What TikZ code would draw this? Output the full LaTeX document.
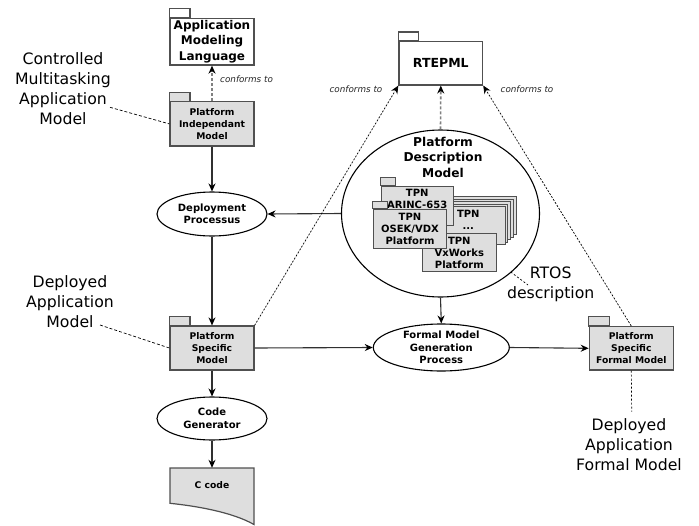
\documentclass[tikz,border=0pt]{standalone}
\usepackage{fontspec}
\setmainfont{DejaVu Sans}
\usetikzlibrary{shapes.geometric,arrows.meta}
\definecolor{pkgfill}{HTML}{DEDEDE}
\definecolor{pkgline}{HTML}{505050}
\definecolor{conn}{HTML}{303030}
\definecolor{dashgray}{HTML}{808080}
\begin{document}
\begin{tikzpicture}[x=1pt,y=-1pt,
  pkg/.style={draw=pkgline, line width=1.2pt, fill=pkgfill, rectangle, inner sep=0pt, align=center, font=\bfseries\fontsize{9.2}{12}\selectfont},
  pkgw/.style={pkg, fill=white, font=\bfseries\fontsize{12}{15.5}\selectfont},
  tpn/.style={pkg, line width=1pt, font=\bfseries\fontsize{10}{12}\selectfont},
  tab/.style={draw=pkgline, line width=1.2pt, fill=pkgfill},
  proc/.style={draw=black, line width=1.1pt, fill=white, ellipse, inner sep=0pt, align=center, font=\bfseries\fontsize{10}{12.5}\selectfont},
  flow/.style={draw=conn, line width=1.1pt, -{Stealth[length=8pt,width=7pt,color=black]}},
  conf/.style={draw=black, line width=0.7pt, dash pattern=on 2pt off 1.5pt, -{Stealth[length=8pt,width=7pt]}},
  confg/.style={draw=dashgray, line width=1.6pt, dash pattern=on 3pt off 2pt, -{Stealth[length=8pt,width=7pt,color=black]}},
  note/.style={draw=black, line width=0.7pt, dash pattern=on 3pt off 2pt},
  big/.style={font=\fontsize{15.7}{20}\selectfont, align=center, inner sep=0pt},
  conflbl/.style={font=\itshape\fontsize{8.8}{10}\selectfont, text=black!85, inner sep=0pt},
  doc/.style={draw=pkgline, line width=1.2pt, fill=pkgfill}
]
\fill[white] (0,0) rectangle (699,525);
\useasboundingbox (0,0) rectangle (699,525);

% ---- left column
\node[pkgw, minimum width=84pt, minimum height=46.7pt] (aml) at (212,41.7) {Application\\Modeling\\Language};
\draw[tab, fill=white] (aml.north west) rectangle ++(20.5,-9.3);

\node[pkg, minimum width=84pt, minimum height=44.3pt] (pim) at (212,123.9) {Platform\\Independant\\Model};
\draw[tab] (pim.north west) rectangle ++(20.5,-8.4);

\node[proc, minimum width=110pt, minimum height=44pt] (dep) at (212,214) {Deployment\\Processus};

\node[pkg, minimum width=84pt, minimum height=44pt] (psm) at (212,348) {Platform\\Specific\\Model};
\draw[tab] (psm.north west) rectangle ++(20.5,-8.7);

\node[proc, minimum width=110pt, minimum height=43pt] (cg) at (212,418.5) {Code\\Generator};

\coordinate (cctl) at (170,468);
\coordinate (cctr) at (254,468);
\coordinate (ccbr) at (254,524.5);
\coordinate (ccbl) at (170,503.3);
\draw[doc] (cctl) -- (cctr) -- (ccbr) .. controls (232,512) and (196,506) .. (ccbl) -- cycle;
\node[inner sep=0pt, minimum width=84pt, minimum height=35pt, font=\bfseries\fontsize{9.2}{12}\selectfont] (ccode) at (212,485.5) {C code};

% ---- centre
\node[pkgw, font=\bfseries\fontsize{12.5}{15}\selectfont, minimum width=83.7pt, minimum height=43.3pt] (rtepml) at (440.8,63.3) {RTEPML};
\draw[tab, fill=white] (rtepml.north west) rectangle ++(20,-9);

\node[proc, minimum width=198pt, minimum height=167pt] (pdm) at (440.5,213.5) {};
\node[font=\bfseries\fontsize{12.2}{15.5}\selectfont, align=center, inner sep=0pt] (pdmlbl) at (443,157) {Platform\\Description\\Model};

\foreach \i in {4,3,2,1,0}{
  \node[tpn, minimum width=73pt, minimum height=38pt] (stk\i) at ({468.5+2.75*\i},{225.7-2.5*\i}) {};
}
\node[font=\bfseries\fontsize{10}{12}\selectfont, align=center, inner sep=0pt] (stklbl) at (468.3,220) {TPN\\...};

\node[tpn, minimum width=72.3pt, minimum height=39pt] (arinc) at (417.2,205.5) {};
\draw[tab, line width=1pt] (arinc.north west) rectangle ++(15,-7.7);
\node[font=\bfseries\fontsize{10}{12}\selectfont, align=center, inner sep=0pt] (arinclbl) at (417.2,198.5) {TPN\\ARINC-653};

\node[tpn, minimum width=73.3pt, minimum height=38.4pt] (vxw) at (459.35,252.5) {TPN\\VxWorks\\Platform};

\node[tpn, minimum width=73.4pt, minimum height=39pt] (osek) at (410,228.8) {TPN\\OSEK/VDX\\Platform};
\draw[tab, line width=1pt] (osek.north west) rectangle ++(15,-7);

\node[proc, minimum width=136pt, minimum height=47pt] (fmgp) at (441.3,347.5) {Formal Model\\Generation\\Process};

% ---- right
\node[pkg, minimum width=84pt, minimum height=43.3pt] (psfm) at (631.3,348.3) {Platform\\Specific\\Formal Model};
\draw[tab] (psfm.north west) rectangle ++(20.7,-9.4);

% ---- connectors
\draw[confg] (pim.north) -- (aml.south);
\node[conflbl, anchor=west] (cf1) at (220,79) {conforms to};
\draw[flow] (pim.south) -- (dep.north);
\draw[flow] (pdm.west) -- (dep.east);
\draw[flow] (dep.south) -- (psm.north);
\draw[flow] (psm.south) -- (cg.north);
\draw[flow] (cg.south) -- (ccode.north);
\draw[flow] (psm.east) -- (fmgp.west);
\draw[flow] (pdm.south) -- (fmgp.north);
\draw[flow] (fmgp.east) -- (psfm.west);
\draw[conf] (psm.north east) -- (rtepml.south west);
\draw[confg] (pdm.north) -- (rtepml.south);
\draw[conf] (psfm.north) -- (rtepml.south east);
\node[conflbl] (cf2) at (356,89) {conforms to};
\node[conflbl] (cf3) at (527,89) {conforms to};

% ---- annotations
\node[big] (cmam) at (63,89) {Controlled\\Multitasking\\Application\\Model};
\coordinate (cmamend) at (110,107.3);
\draw[note] (cmamend) -- (pim.west);

\node[big] (dam) at (70,301.5) {Deployed\\Application\\Model};
\coordinate (damend) at (100,325);
\draw[note] (damend) -- (psm.west);

\coordinate (dafmend) at (631.7,411.7);
\draw[note, dash pattern=on 2pt off 2pt] (psfm.south) -- (dafmend);
\node[big] (dafm) at (629,445) {Deployed\\Application\\Formal Model};

\node[big] (rtos) at (550.7,284) {RTOS\\description};
\coordinate (rtos1) at (510.7,272);
\coordinate (rtos2) at (528,285);
\draw[note, dash pattern=on 2pt off 2pt] (rtos1) -- (rtos2);
\end{tikzpicture}
\end{document}
